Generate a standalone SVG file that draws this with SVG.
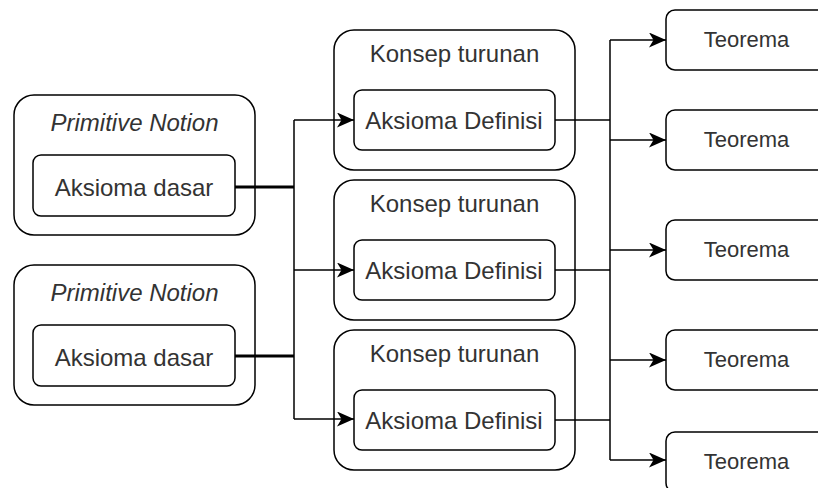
<svg xmlns="http://www.w3.org/2000/svg" width="818" height="488" viewBox="0 0 818 488">
<style>
.box{fill:#fff;stroke:#000;stroke-width:1.5}
.t{font-family:"Liberation Sans",Arial,sans-serif;font-size:24px;fill:#333;text-anchor:middle}
.it{font-style:italic}
.th{font-size:22px}
.ln{fill:none;stroke:#000;stroke-width:1.5}
.thick{stroke-width:3}
.arr{marker-end:url(#ah)}
</style>
<defs>
<marker id="ah" markerUnits="userSpaceOnUse" markerWidth="17" markerHeight="15" refX="17" refY="7.5" orient="auto">
<path d="M0,0 L17,7.5 L0,15 L4.5,7.5 Z" fill="#000"/>
</marker>
</defs>
<rect width="818" height="488" fill="#fff"/>
<g id="pn1">
<rect class="box" x="14" y="95" width="241" height="140" rx="20"/>
<text class="t it" x="134.5" y="131">Primitive Notion</text>
<rect class="box" x="33" y="155" width="202" height="61" rx="8"/>
<text class="t" x="134" y="195.5">Aksioma dasar</text>
</g>
<g id="pn2">
<rect class="box" x="14" y="265" width="241" height="140" rx="20"/>
<text class="t it" x="134.5" y="301">Primitive Notion</text>
<rect class="box" x="33" y="325" width="202" height="61" rx="8"/>
<text class="t" x="134" y="365.5">Aksioma dasar</text>
</g>
<g id="kt1">
<rect class="box" x="334" y="30" width="241" height="140" rx="20"/>
<text class="t" x="454.5" y="62">Konsep turunan</text>
<rect class="box" x="354" y="90" width="201" height="60" rx="8"/>
<text class="t" x="454" y="128.5">Aksioma Definisi</text>
</g>
<g id="kt2">
<rect class="box" x="334" y="180" width="241" height="140" rx="20"/>
<text class="t" x="454.5" y="212">Konsep turunan</text>
<rect class="box" x="354" y="240" width="201" height="60" rx="8"/>
<text class="t" x="454" y="278.5">Aksioma Definisi</text>
</g>
<g id="kt3">
<rect class="box" x="334" y="330" width="241" height="140" rx="20"/>
<text class="t" x="454.5" y="362">Konsep turunan</text>
<rect class="box" x="354" y="390" width="201" height="60" rx="8"/>
<text class="t" x="454" y="428.5">Aksioma Definisi</text>
</g>
<g id="th1"><rect class="box" x="666" y="10" width="160" height="60" rx="9"/><text class="t th" x="746.5" y="47">Teorema</text></g>
<g id="th2"><rect class="box" x="666" y="110" width="160" height="60" rx="9"/><text class="t th" x="746.5" y="147">Teorema</text></g>
<g id="th3"><rect class="box" x="666" y="220" width="160" height="60" rx="9"/><text class="t th" x="746.5" y="257">Teorema</text></g>
<g id="th4"><rect class="box" x="666" y="330" width="160" height="60" rx="9"/><text class="t th" x="746.5" y="367">Teorema</text></g>
<g id="th5"><rect class="box" x="666" y="432" width="160" height="60" rx="9"/><text class="t th" x="746.5" y="469">Teorema</text></g>
<g id="connectors">
<path class="ln thick" d="M235,187 H294"/>
<path class="ln thick" d="M235,356 H294"/>
<path class="ln" d="M294,120 V419"/>
<path class="ln arr" d="M294,120 H354"/>
<path class="ln arr" d="M294,270 H354"/>
<path class="ln arr" d="M294,419 H354"/>
<path class="ln" d="M555,120 H610"/>
<path class="ln" d="M555,270 H610"/>
<path class="ln" d="M555,420 H610"/>
<path class="ln" d="M610,40 V460"/>
<path class="ln arr" d="M610,40 H666"/>
<path class="ln arr" d="M610,140 H666"/>
<path class="ln arr" d="M610,250 H666"/>
<path class="ln arr" d="M610,360 H666"/>
<path class="ln arr" d="M610,460 H666"/>
</g>
</svg>
